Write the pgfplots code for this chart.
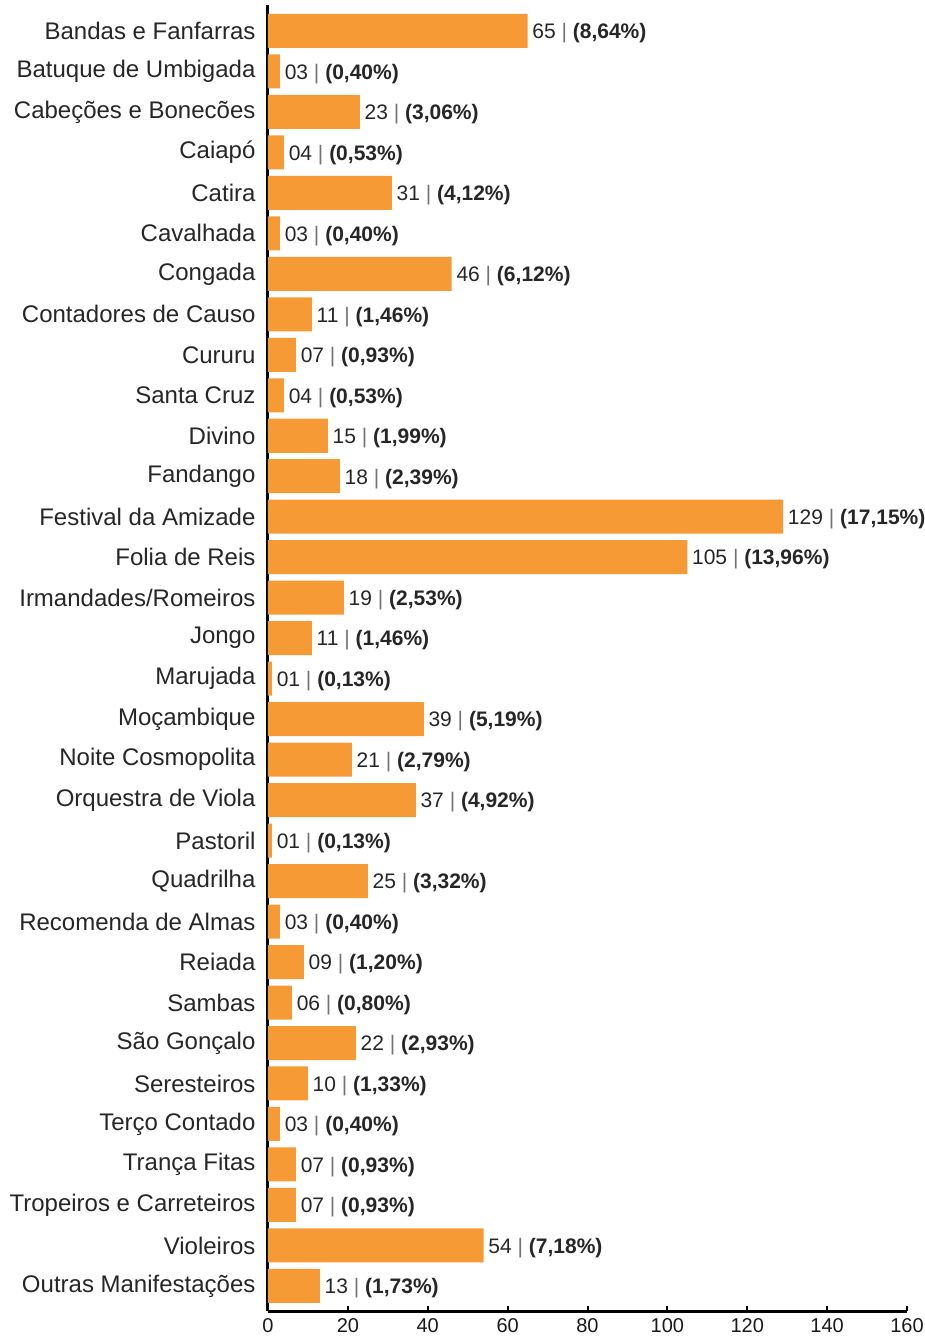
\documentclass[border=0pt]{standalone}
\usepackage{pgfplots}
\usepackage{pgfplotstable}
\pgfplotsset{compat=1.18}
\usepackage{fontspec}
\setmainfont{Liberation Sans}
\definecolor{barorange}{HTML}{F69A35}

% rotulo = valor:percentual
\def\splitlbl#1:#2\relax{#1 {\color{black!55}|} \textbf{(#2\%)}}
\newcommand\fmtlbl{\edef\tmplbl{\pgfplotspointmeta}\expandafter\splitlbl\tmplbl\relax}

\pgfplotstableread{
idx val lbl
0 65 65:8,64
1 3 03:0,40
2 23 23:3,06
3 4 04:0,53
4 31 31:4,12
5 3 03:0,40
6 46 46:6,12
7 11 11:1,46
8 7 07:0,93
9 4 04:0,53
10 15 15:1,99
11 18 18:2,39
12 129 129:17,15
13 105 105:13,96
14 19 19:2,53
15 11 11:1,46
16 1 01:0,13
17 39 39:5,19
18 21 21:2,79
19 37 37:4,92
20 1 01:0,13
21 25 25:3,32
22 3 03:0,40
23 9 09:1,20
24 6 06:0,80
25 22 22:2,93
26 10 10:1,33
27 3 03:0,40
28 7 07:0,93
29 7 07:0,93
30 54 54:7,18
31 13 13:1,73
}\manifest

\begin{document}
\begin{tikzpicture}
\useasboundingbox (-134pt,-13.5pt) rectangle (328.5pt,655.5pt);
\begin{axis}[
  scale only axis,
  width=319.5pt, height=653pt,
  xbar,
  bar width=0.84,
  xmin=0, xmax=160,
  ymin=-0.64, ymax=31.62,
  y dir=reverse,
  axis x line=bottom,
  axis y line=left,
  axis line style={-, line width=1.5pt, black},
  xtick={0,20,...,160},
  xtick style={black, line width=1pt},
  major tick length=2.5pt,
  xtick align=inside,
  ytick={0,...,31},
  ytick style={draw=none},
  yticklabels={Bandas e Fanfarras, Batuque de Umbigada, Cabeções e Bonecões, Caiapó, Catira, Cavalhada, Congada, Contadores de Causo, Cururu, Santa Cruz, Divino, Fandango, Festival da Amizade, Folia de Reis, Irmandades/Romeiros, Jongo, Marujada, Moçambique, Noite Cosmopolita, Orquestra de Viola, Pastoril, Quadrilha, Recomenda de Almas, Reiada, Sambas, São Gonçalo, Seresteiros, Terço Contado, Trança Fitas, Tropeiros e Carreteiros, Violeiros, Outras Manifestações},
  yticklabel style={font=\fontsize{12}{14}\selectfont, text=black!85, xshift=-1.5pt},
  xticklabel style={font=\fontsize{10}{12}\selectfont, text=black!90},
  /pgf/number format/assume math mode=true,
  point meta=explicit symbolic,
  nodes near coords={\fmtlbl},
  every node near coord/.append style={anchor=west, inner sep=2.2pt, yshift=-1.2pt, font=\fontsize{10.5}{12}\selectfont, text=black!85},
  clip=false,
]
\addplot[fill=barorange, draw=none]
  table[x=val, y=idx, meta=lbl] {\manifest};
\end{axis}
\end{tikzpicture}
\end{document}
